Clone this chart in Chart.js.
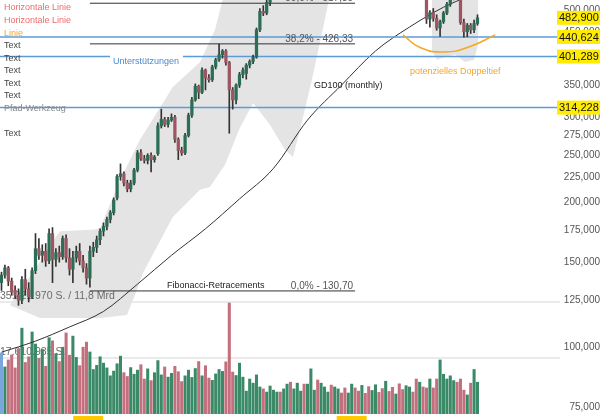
<!DOCTYPE html>
<html>
<head>
<meta charset="utf-8">
<script src="https://cdn.jsdelivr.net/npm/chart.js@4.4.0/dist/chart.umd.min.js"></script>
<style>
  html, body { margin: 0; padding: 0; background: #fff; overflow: hidden; }
</style>
</head>
<body>
<canvas id="chart" width="600" height="420"></canvas>
<script>
// Kerzen: [Eröffnung, Hoch, Tief, Schluss]
const candles = [
  [136,143,131,141],[141,148,139,146],[146,147,134,137],[137,139,128,130],[131,134,126,128],
  [128,132,122,125],[125,140,123,138],[138,145,128,132],[132,136,124,127],[127,146,126,144],
  [144,172,142,160],[160,168,152,155],[155,163,150,158],[158,164,147,151],[151,176,149,172],
  [172,177,136,152],[152,160,147,157],[157,162,150,154],[154,170,152,168],[168,171,150,153],
  [153,160,141,145],[145,158,136,153],[153,162,150,158],[158,164,148,151],[151,155,143,146],
  [146,149,135,139],[139,162,133,158],[158,165,154,161],[161,170,157,167],[167,176,163,174],
  [174,181,170,178],[178,186,175,184],[184,192,181,190],[190,204,188,202],[204,228,202,226],
  [226,240,222,229],[229,231,216,219],[219,222,210,213],[213,222,210,219],[219,235,217,233],
  [233,256,231,253],[253,257,244,246],[246,250,241,244],[244,252,240,250],[250,253,231,245],
  [245,250,242,248],[252,292,250,288],[288,312,285,297],[297,300,287,290],[290,300,286,296],
  [296,305,294,300],[300,303,266,270],[270,272,245,256],[256,260,250,253],[253,278,251,275],
  [275,306,273,303],[303,330,300,326],[326,352,324,348],[348,350,328,338],[338,380,336,376],
  [376,378,342,362],[362,368,355,359],[359,385,356,382],[382,398,378,395],[395,426,392,405],
  [405,415,398,412],[412,415,385,390],[390,392,278,342],[342,346,312,326],[326,352,320,350],
  [350,372,346,368],[368,380,362,376],[370,388,360,385],[385,395,380,392],[392,404,388,400],
  [400,460,398,456],[456,505,452,498],[498,512,488,494],[494,530,490,520],[520,545,512,538],
  [538,560,532,555],[555,575,548,570],[570,582,552,560],[560,595,556,590],[590,612,585,605],
  [605,610,580,586],[586,600,570,596],[596,625,590,620],[620,640,612,632],[632,638,605,612],
  [612,630,600,626],[626,655,620,650],[650,668,640,660],[660,664,628,636],[636,648,618,644],
  [644,676,640,670],[670,690,660,684],[684,688,650,658],[658,672,645,668],[668,695,662,690],
  [690,702,670,676],[676,682,648,654],[654,670,640,664],[664,680,655,672],[672,678,640,646],
  [646,652,615,622],[622,640,610,636],[636,650,625,630],[630,635,600,606],[606,628,598,624],
  [624,645,618,640],[640,648,615,620],[620,626,590,596],[596,612,585,608],[608,620,592,598],
  [598,604,570,576],[576,594,565,590],[590,600,572,580],[580,586,555,562],[562,582,555,578],
  [578,596,570,590],[590,598,568,574],[574,580,548,556],[556,590,550,584],[584,592,545,550],
  [550,556,470,480],[480,500,462,495],[495,505,475,482],[482,490,455,460],[460,478,442,474],
  [474,498,470,494],[494,520,490,515],[515,540,510,532],[532,548,526,540],[540,545,528,535],
  [535,540,468,472],[472,480,440,452],[452,470,441,466],[466,470,448,456],[456,478,450,470],
  [470,490,466,482.9]
];

// Volumen in Mio. Stück
const volumes = [
  19.2,14.8,17.0,18.6,14.5,20.5,27.0,16.2,18.0,25.8,
  22.0,17.5,20.3,15.0,24.0,23.0,19.0,16.5,21.0,25.5,
  18.5,24.5,17.8,15.2,21.0,22.6,19.5,14.0,15.3,18.0,
  16.0,14.5,12.0,13.5,15.8,18.2,13.0,11.8,14.6,12.5,
  13.8,15.5,11.0,14.2,10.5,13.0,16.8,12.3,14.8,11.6,
  12.8,15.0,13.3,10.2,12.0,13.8,11.5,14.3,16.5,12.0,
  15.2,11.3,10.6,12.6,14.0,13.4,16.4,34.9,13.2,12.1,
  16.0,11.6,7.2,11.0,9.7,12.3,8.5,7.9,6.9,8.8,
  7.5,6.9,6.9,7.9,9.4,10.0,7.9,9.7,7.2,9.4,
  9.4,14.2,7.5,10.7,9.7,8.5,6.9,9.1,8.5,7.9,
  6.6,8.2,6.6,9.4,8.2,7.2,9.0,6.5,8.6,7.4,
  9.2,6.8,8.0,10.3,7.1,8.4,6.3,9.5,7.7,8.9,
  8.5,6.9,11.0,10.0,8.5,8.2,11.0,8.2,11.0,17.0,
  12.5,11.0,12.0,10.5,10.0,11.0,7.5,6.0,9.7,14.0,10.0
];

// GD100 (monthly)
const gdIndex = [0, 10, 20, 30, 40, 50, 60, 70, 80, 90, 100, 110, 120, 130, 140];
const gdValues = [97.5, 102.8, 110, 118.5, 135, 155, 176, 203, 235, 296, 350, 412, 462, 508, 545];

// Fibonacci-Retracements
const fibLevels = [517.85, 426.33, 130.70];
const fibLabels = ['50,0% - 517,85', '38,2% - 426,33', '0,0% - 130,70'];
const fibFrom = 26, fibTo = 104;

// Unterstützungen / Marken rechts
const supportLevels = [440.624, 401.289, 314.228];
const priceBoxes = [482.9, 440.624, 401.289, 314.228];
const priceTicks = [75, 100, 125, 150, 175, 200, 225, 250, 275, 300, 350, 400, 450, 500];

// Volumen-Referenzen
const volRefs = [35.22197, 17.610985];
const volRefLabels = ['35.221.970 S. / 11,8 Mrd', '17.610.985 S.'];

// Pfad-Werkzeug (graue Fläche)
const shadeIdx = [2.5, 11.3, 29.0, 36.9, 39.3, 41.6, 50.4, 58.4, 61.3, 65.7, 70.1, 74.0, 79.0, 83.4, 85.7, 87.8, 91.3, 95.1, 96.6,
                  65.4, 62.8, 58.4, 50.4, 40.7, 34.9, 29.0, 27.5, 17.2, 14.3, 9.9, 5.4, 2.5];
const shadePrice = [122, 114.8, 114.8, 116.5, 128.5, 142.4, 186.2, 212.2, 214.9, 238.7, 285, 321.3, 289.1, 257, 248, 282.8, 359.1, 478.5, 538,
                    538, 456.2, 391, 346.8, 269.5, 222.6, 176.6, 175.3, 174, 163.2, 144.8, 131.6, 122];
const toothIdx = [126.6, 126.6, 128, 130.4, 133.4, 136.3, 139, 140.2, 140.2];
const toothPrice = [560, 414, 395, 400, 405, 391, 395, 425, 560];

// potenzielles Doppeltief
const arcIdx = [118.1, 123.1, 130.4, 137.8, 145.2];
const arcPrice = [445, 419, 410, 421, 445];

const yearMarkIdx = [25.5, 103];

const xMin = -0.44, xMax = 164.27;
const GREEN = '#2b6e55', RED = '#9c5561';
const VGREEN = '#3a8a68', VRED = '#c46f7e';

const up = candles.map(c => c[3] >= c[0]);

function pts(xs, ys) { return xs.map((x, i) => ({ x: x, y: ys[i] })); }
function hline(v) { return [{ x: xMin, y: v }, { x: xMax, y: v }]; }

const datasets = [];
datasets.push({ type: 'line', yAxisID: 'y', data: pts(shadeIdx, shadePrice), fill: 'shape', backgroundColor: '#e4e4e4', borderWidth: 0, pointRadius: 0, order: 20 });
datasets.push({ type: 'line', yAxisID: 'y', data: pts(toothIdx, toothPrice), fill: 'shape', backgroundColor: '#e4e4e4', borderWidth: 0, pointRadius: 0, order: 20 });
volRefs.forEach(v => datasets.push({ type: 'line', yAxisID: 'yv', data: hline(v), borderColor: '#e3e3e3', borderWidth: 1.5, pointRadius: 0, order: 15 }));
datasets.push({
  type: 'bar', yAxisID: 'yv', grouped: false, barThickness: 2.4, order: 12, id: 'vol',
  data: volumes.map((v, i) => ({ x: i, y: v })),
  backgroundColor: volumes.map((v, i) => i === 0 ? '#7aa6dc' : (up[i] ? VGREEN : VRED))
});
datasets.push({ type: 'line', yAxisID: 'y', data: pts(gdIndex, gdValues), borderColor: '#333', borderWidth: 1, pointRadius: 0, cubicInterpolationMode: 'monotone', order: 8 });
fibLevels.forEach(v => datasets.push({ type: 'line', yAxisID: 'y', data: [{ x: fibFrom, y: v }, { x: fibTo, y: v }], borderColor: '#333', borderWidth: 1, pointRadius: 0, order: 7 }));
supportLevels.forEach(v => datasets.push({ type: 'line', yAxisID: 'y', data: hline(v), borderColor: '#5b9bd8', borderWidth: 1.5, pointRadius: 0, order: 6 }));
datasets.push({
  type: 'bar', yAxisID: 'y', grouped: false, barThickness: 1, order: 4,
  data: candles.map((c, i) => ({ x: i, y: [c[2], c[1]] })),
  backgroundColor: '#333'
});
datasets.push({
  type: 'bar', yAxisID: 'y', grouped: false, barThickness: 2.6, minBarLength: 1, order: 3,
  data: candles.map((c, i) => ({ x: i, y: [c[0], c[3]] })),
  backgroundColor: up.map(u => u ? GREEN : RED)
});
datasets.push({ type: 'line', yAxisID: 'y', data: pts(arcIdx, arcPrice), borderColor: '#f5a623', borderWidth: 1.5, pointRadius: 0, tension: 0.5, order: 1 });

const fmt = v => v.toLocaleString('de-DE', { minimumFractionDigits: 3, maximumFractionDigits: 3 });

const annotations = {
  id: 'annotations',
  beforeDatasetDraw(chart, args) {
    if (args.meta._dataset.id !== 'vol') return;
    const ctx = chart.ctx, yv = chart.scales.yv;
    ctx.save();
    ctx.font = '10.5px "Liberation Sans", Arial, sans-serif';
    ctx.fillStyle = '#6a6a6a';
    ctx.textBaseline = 'alphabetic';
    volRefs.forEach((v, i) => ctx.fillText(volRefLabels[i], 0, yv.getPixelForValue(v) - 3));
    ctx.restore();
  },
  afterDatasetsDraw(chart) {
    const ctx = chart.ctx, x = chart.scales.x, y = chart.scales.y;
    ctx.save();
    ctx.textBaseline = 'alphabetic';
    // Liste links
    const list = [
      ['Horizontale Linie', '#f06b6b', 10], ['Horizontale Linie', '#f06b6b', 23], ['Linie', '#f5a623', 36],
      ['Text', '#444', 48], ['Text', '#444', 61], ['Text', '#444', 73], ['Text', '#444', 86], ['Text', '#444', 98],
      ['Pfad-Werkzeug', '#8a8a8a', 111], ['Text', '#444', 136]
    ];
    ctx.font = '9px "Liberation Sans", Arial, sans-serif';
    list.forEach(l => { ctx.fillStyle = l[1]; ctx.fillText(l[0], 4, l[2]); });

    // Fibonacci
    ctx.font = '10px "Liberation Sans", Arial, sans-serif';
    ctx.fillStyle = '#555';
    ctx.textAlign = 'right';
    fibLevels.forEach((v, i) => ctx.fillText(fibLabels[i], x.getPixelForValue(fibTo) - 2, y.getPixelForValue(v) - 2));
    ctx.font = '9px "Liberation Sans", Arial, sans-serif';
    ctx.fillStyle = '#222';
    ctx.textAlign = 'left';
    ctx.fillText('Fibonacci-Retracements', 167, y.getPixelForValue(fibLevels[2]) - 3);

    // Unterstützungen
    const ys = y.getPixelForValue(supportLevels[1]);
    ctx.fillStyle = '#fff';
    ctx.fillRect(110, ys - 2, 73, 4);
    ctx.fillStyle = '#4a8ad0';
    ctx.fillText('Unterstützungen', 113, ys + 7);

    ctx.fillStyle = '#222';
    ctx.fillText('GD100 (monthly)', 314, 88);
    ctx.fillStyle = '#f5a623';
    ctx.fillText('potenzielles Doppeltief', 410, 74);
    ctx.restore();
  },
  afterDraw(chart) {
    const ctx = chart.ctx, x = chart.scales.x, y = chart.scales.y;
    ctx.save();
    ctx.font = '11px "Liberation Sans", Arial, sans-serif';
    ctx.textBaseline = 'middle';
    priceBoxes.forEach(v => {
      const py = y.getPixelForValue(v);
      ctx.fillStyle = '#ffec00';
      ctx.fillRect(557, py - 7, 43, 14);
      ctx.fillStyle = '#111';
      ctx.fillText(fmt(v), 559, py + 0.5);
    });
    ctx.fillStyle = '#ffc800';
    yearMarkIdx.forEach(i => {
      const px = x.getPixelForValue(i);
      ctx.fillRect(px - 15, 416, 30, 4);
    });
    ctx.restore();
  }
};

new Chart(document.getElementById('chart'), {
  type: 'bar',
  data: { datasets: datasets },
  options: {
    responsive: false,
    animation: false,
    devicePixelRatio: 1,
    layout: { padding: { left: 0, right: 0, top: 0, bottom: 6 } },
    plugins: { legend: { display: false }, tooltip: { enabled: false } },
    scales: {
      x: { type: 'linear', min: xMin, max: xMax, offset: false, display: false },
      y: {
        type: 'logarithmic', position: 'right', min: 72.53, max: 525.9,
        grid: { display: false }, border: { display: false },
        afterBuildTicks: s => { s.ticks = priceTicks.map(v => ({ value: v })); },
        afterFit: s => { s.width = 40; s.paddingTop = 0; s.paddingBottom = 0; },
        ticks: {
          callback: v => fmt(v), color: '#555', padding: 3, crossAlign: 'far',
          font: { size: 10, family: '"Liberation Sans", Arial, sans-serif' }
        }
      },
      yv: { type: 'linear', min: 0, max: 130.2, display: false }
    }
  },
  plugins: [annotations]
});
</script>
</body>
</html>
